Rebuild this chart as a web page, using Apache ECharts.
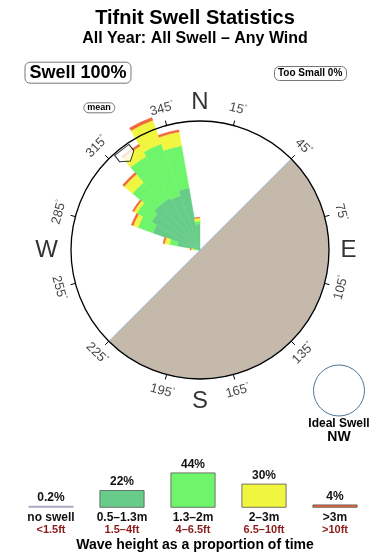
<!DOCTYPE html>
<html><head><meta charset="utf-8">
<script src="https://cdn.jsdelivr.net/npm/echarts@6/dist/echarts.min.js"></script>
<style>html,body{margin:0;padding:0;background:#fff}#chart{width:390px;height:560px}</style>
</head><body><div id="chart"></div>
<script>
// ---- data (rose bins, compass degrees clockwise from N, 10° each) ----
const directionBins = ['0','10','20','30','40','50','60','70','80','90','100','110','120','130','140','150','160','170',
  '180','190','200','210','220','230','240','250','260','270','280','290','300','310','320','330','340','350'];
// stacked radial lengths per bin (ring = 100)
const swell05to13 = [0,0,0,0,0,0,0,0,0,0,0,0,0,0,0,0,0,0,0,0,0,0,0,0,0,0,0, 2.3,17.8,38.8,43.4,46.5,46.5,45.0,48.8,20.2];
const swell13to2  = [0,0,0,0,0,0,0,0,0,0,0,0,0,0,0,0,0,0,0,0,0,0,0,0,0,0,0, 2.3,6.2,12.4,13.2,21.7,37.2,42.6,33.3,2.3];
const swell2to3   = [0,0,0,0,0,0,0,0,0,0,0,0,0,0,0,0,0,0,0,0,0,0,0,0,0,0,0, 2.3,3.9,3.9,2.7,8.5,9.3,19.4,10.9,2.3];
const swellOver3  = [0,0,0,0,0,0,0,0,0,0,0,0,0,0,0,0,0,0,0,0,0,0,0,0,0,0,0, 0.8,1.2,1.6,1.2,1.6,1.6,2.3,1.6,0.5];
const degreeTicks = [15,45,75,105,135,165,195,225,255,285,315,345];
const compassLetters = ['N','E','S','W'];
const compassAngles = [0,90,180,270];
const landStart = 45, landEnd = 225;   // land sector (compass degrees)
const meanDirection = 322;
// wave height legend
const heightBands = ['no swell','0.5–1.3m','1.3–2m','2–3m','>3m'];
const heightBandsFt = ['<1.5ft','1.5–4ft','4–6.5ft','6.5–10ft','>10ft'];
const heightShare = [0.2,22,44,30,4];
const swellPct = 100, tooSmallPct = 0;

const COLORS = ['#a9a9c4','#66cc88','#6ff56b','#f0f53f','#f0673c'];
const FONT = '"Liberation Sans", Arial, Helvetica, sans-serif';
const CENTER = [200,250];
const letterR = {N:147.5, E:148.5, S:151, W:153.5};

const chart = echarts.init(document.getElementById('chart'), null, {renderer:'canvas'});

function normRot(d){ let r = -d; while (r <= -90) r += 180; while (r > 90) r -= 180; return r; }

const roseSeries = [swell05to13, swell13to2, swell2to3, swellOver3].map((arr, k) => ({
  type:'bar', coordinateSystem:'polar', polarIndex:1, stack:'rose',
  data: arr, barWidth:'100%', barCategoryGap:'0%', barGap:'-100%', clip:false, silent:true,
  itemStyle:{color: COLORS[k+1], borderColor: COLORS[k+1], borderWidth:0.4}, z: 3
}));

const option = {
  animation:false,
  textStyle:{fontFamily:FONT},
  title:[
    {text:'Tifnit Swell Statistics', left:'center', top:8, padding:0,
      textStyle:{fontSize:20, fontWeight:'bold', color:'#000', lineHeight:20, fontFamily:FONT}},
    {text:'All Year: All Swell – Any Wind', left:'center', top:30.3, padding:0,
      textStyle:{fontSize:16, fontWeight:'bold', color:'#000', lineHeight:16, fontFamily:FONT}},
    {text:'Swell ' + swellPct + '%', left:25, top:61.7, padding:[2,4.5],
      borderColor:'#777', borderWidth:1, borderRadius:5, backgroundColor:'#fff',
      textStyle:{fontSize:18, fontWeight:'bold', color:'#000', lineHeight:18, fontFamily:FONT}},
    {text:'Too Small ' + tooSmallPct + '%', left:274, top:66, padding:[2,4],
      borderColor:'#777', borderWidth:1, borderRadius:5, backgroundColor:'#fff',
      textStyle:{fontSize:10, fontWeight:'bold', color:'#000', lineHeight:11, fontFamily:FONT}},
    {text:'mean', left:83.3, top:102.3, padding:[1,4],
      borderColor:'#777', borderWidth:1, borderRadius:5, backgroundColor:'#fff',
      textStyle:{fontSize:9, fontWeight:'bold', color:'#000', lineHeight:9, fontFamily:FONT}},
    {text:'Ideal Swell', left:339, top:418, textAlign:'center', padding:0,
      textStyle:{fontSize:12, fontWeight:'bold', color:'#000', lineHeight:12, fontFamily:FONT}},
    {text:'NW', left:339, top:430, textAlign:'center', padding:0,
      textStyle:{fontSize:14, fontWeight:'bold', color:'#000', lineHeight:14, fontFamily:FONT}},
    {text:'Wave height as a proportion of time', left:'center', top:538, padding:0,
      textStyle:{fontSize:14, fontWeight:'bold', color:'#000', lineHeight:14, fontFamily:FONT}}
  ],
  graphic:[
    {type:'circle', shape:{cx:339, cy:390.5, r:25.5}, style:{fill:'#fff', stroke:'#4f7394', lineWidth:1}}
  ],
  polar:[
    {center:CENTER, radius:129},
    {center:CENTER, radius:167.7},
    {center:CENTER, radius:170}
  ],
  angleAxis:[
    {polarIndex:0, type:'value', min:15, max:375, interval:30, startAngle:75, clockwise:true, z:10,
      axisLine:{show:true, lineStyle:{color:'#000', width:1.3}},
      axisTick:{show:true, inside:false, length:5, lineStyle:{color:'#000', width:1}},
      axisLabel:{show:false}, splitLine:{show:false}, splitArea:{show:false}},
    {polarIndex:1, type:'category', data:directionBins, startAngle:90, clockwise:true, boundaryGap:true,
      axisLine:{show:false}, axisTick:{show:false}, axisLabel:{show:false}, splitLine:{show:false}, splitArea:{show:false}},
    {polarIndex:2, type:'value', min:0, max:360, startAngle:90, clockwise:true,
      axisLine:{show:false}, axisTick:{show:false}, axisLabel:{show:false}, splitLine:{show:false}, splitArea:{show:false}}
  ],
  radiusAxis:[
    {polarIndex:0, type:'value', min:0, max:100, axisLine:{show:false}, axisTick:{show:false}, axisLabel:{show:false}, splitLine:{show:false}, splitArea:{show:false}},
    {polarIndex:1, type:'value', min:0, max:130, axisLine:{show:false}, axisTick:{show:false}, axisLabel:{show:false}, splitLine:{show:false}, splitArea:{show:false}},
    {polarIndex:2, type:'value', min:0, max:170, axisLine:{show:false}, axisTick:{show:false}, axisLabel:{show:false}, splitLine:{show:false}, splitArea:{show:false}}
  ],
  grid:{left:15.5, width:355, top:467.7, height:40},
  xAxis:{type:'category', data:heightBands, axisLine:{show:false}, axisTick:{show:false},
    axisLabel:{interval:0, margin:4,
      formatter:(v, i) => '{a|' + v + '}\n{b|' + heightBandsFt[i] + '}',
      rich:{a:{fontSize:12, fontWeight:'bold', color:'#111', lineHeight:12, fontFamily:FONT},
            b:{fontSize:11, fontWeight:'bold', color:'#8b1a1a', lineHeight:12, fontFamily:FONT}}}},
  yAxis:{type:'value', min:0, max:50, show:false, splitLine:{show:false}},
  series:[
    {type:'pie', center:CENTER, radius:[0,129], startAngle:90 - landStart, clockwise:true, silent:true, z:1,
      label:{show:false}, labelLine:{show:false}, emphasis:{disabled:true},
      data:[
        {value:landEnd - landStart, name:'land', itemStyle:{color:'#c5b9ac', borderColor:'#a8c8e8', borderWidth:1}},
        {value:360 - (landEnd - landStart), name:'sea', itemStyle:{color:'rgba(255,255,255,0)', borderWidth:0}}
      ]},
    ...roseSeries,
    {type:'scatter', coordinateSystem:'polar', polarIndex:2, silent:true, z:20,
      symbol:'path://M-10,-7 L10,-7 L10,1 L0,7 L-10,1 Z', symbolSize:[18,14],
      symbolRotate: 360 - meanDirection,
      itemStyle:{color:'#fff', borderColor:'#000', borderWidth:1},
      data:[[120, meanDirection]]},
    {type:'scatter', coordinateSystem:'polar', polarIndex:2, silent:true, z:15, symbolSize:1,
      itemStyle:{color:'rgba(0,0,0,0)'},
      data: degreeTicks.map(d => ({name:String(d), value:[146, d], label:{rotate:normRot(d)}})),
      label:{show:true, position:'inside', align:'center', verticalAlign:'middle',
        formatter:p => '{d|' + p.name + '}{s|°}',
        rich:{d:{fontSize:13, color:'#111', fontFamily:FONT}, s:{fontSize:7, color:'#111', padding:[0,0,7,0], fontFamily:FONT}}}},
    {type:'scatter', coordinateSystem:'polar', polarIndex:2, silent:true, z:15, symbolSize:1,
      itemStyle:{color:'rgba(0,0,0,0)'},
      data: compassLetters.map((c, i) => ({name:c, value:[letterR[c], compassAngles[i]]})),
      label:{show:true, position:'inside', align:'center', verticalAlign:'middle', formatter:'{b}',
        fontSize:24, color:'#000', fontFamily:FONT}},
    {type:'bar', xAxisIndex:0, yAxisIndex:0, barWidth:45, barMinHeight:2, silent:true,
      data: heightShare.map((v, i) => ({value:v, itemStyle: i === 0
        ? {color:COLORS[0], borderWidth:0}
        : {color:COLORS[i], borderColor:'#555', borderWidth:0.8}})),
      label:{show:true, position:'top', distance:2, formatter:p => p.value + '%',
        fontSize:12, fontWeight:'bold', color:'#111', fontFamily:FONT}}
  ]
};
chart.setOption(option);
</script>
</body></html>
